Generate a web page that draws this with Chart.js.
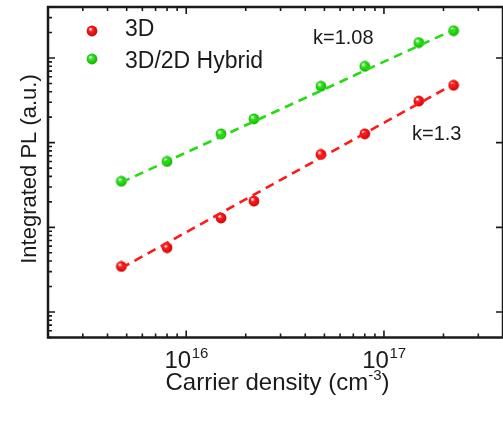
<!DOCTYPE html>
<html>
<head>
<meta charset="utf-8">
<script src="https://cdn.jsdelivr.net/npm/chart.js@4.4.1/dist/chart.umd.min.js"></script>
<style>
  html, body { margin: 0; padding: 0; background: #fff; overflow: hidden; }
  #wrap { width: 503px; height: 423px; overflow: hidden; }
  canvas { display: block; }
</style>
</head>
<body>
<div id="wrap"><canvas id="pl" width="510" height="423"></canvas></div>
<script>
// Carrier density (cm^-3) shared by both samples
const densities = [4.7e15, 8e15, 1.5e16, 2.2e16, 4.8e16, 8e16, 1.5e17, 2.25e17];
// Integrated PL (a.u.)
const pl3D = [345, 575, 1290, 2040, 7250, 12700, 31000, 47600];
const plHybrid = [3500, 6000, 12700, 19100, 46400, 79600, 152000, 210000];
// Power-law fit end points (first and last density)
const fit3D = [330, 49000];
const fitHybrid = [3400, 215000];
const slopeLabels = ["k=1.08", "k=1.3"];
const seriesNames = ["3D", "3D/2D Hybrid"];
const xTickExps = [16, 17];

const FONT = '"Liberation Sans", Arial, sans-serif';
const INK = "#1a1a1a";
const RED = "#ff1a1a";
const GREEN = "#22dd11";

// Shaded sphere marker
function ball(color, shade) {
  const c = document.createElement("canvas");
  c.width = c.height = 12;
  const g = c.getContext("2d");
  const grad = g.createRadialGradient(4.3, 4.0, 0.4, 6, 6, 6);
  grad.addColorStop(0, "#ffffff");
  grad.addColorStop(0.3, color);
  grad.addColorStop(1, shade);
  g.fillStyle = grad;
  g.beginPath();
  g.arc(6, 6, 5.4, 0, Math.PI * 2);
  g.fill();
  return c;
}
const redBall = ball("#ff2020", "#c80000");
const greenBall = ball("#30e820", "#14a800");

function logTicks(min, max) {
  const out = [];
  for (let e = Math.floor(Math.log10(min)); e <= Math.ceil(Math.log10(max)); e++) {
    for (let m = 1; m <= 9; m++) {
      const v = m * Math.pow(10, e);
      if (v >= min * 0.999 && v <= max * 1.001) out.push({ v, major: m === 1 });
    }
  }
  return out;
}

const pts = (ys) => densities.map((x, i) => ({ x, y: ys[i] }));
const fitPts = (ends) => [
  { x: densities[0], y: ends[0] },
  { x: densities[densities.length - 1], y: ends[1] },
];

// Boxed frame with inward ticks, labels, legend and annotations
const framePlugin = {
  id: "frame",
  afterDraw(chart) {
    const { ctx, chartArea: a, scales } = chart;
    const xs = scales.x, ys = scales.y;
    ctx.save();
    ctx.strokeStyle = INK;
    ctx.lineWidth = 2.5;
    ctx.strokeRect(a.left, a.top, a.right - a.left, a.bottom - a.top);

    ctx.lineWidth = 1.6;
    ctx.beginPath();
    logTicks(xs.min, xs.max).forEach((t) => {
      const px = xs.getPixelForValue(t.v);
      const len = t.major ? 7 : 4;
      ctx.moveTo(px, a.bottom); ctx.lineTo(px, a.bottom - len);
      ctx.moveTo(px, a.top); ctx.lineTo(px, a.top + len);
    });
    logTicks(ys.min, ys.max).forEach((t) => {
      const py = ys.getPixelForValue(t.v);
      const len = t.major ? 7 : 4;
      ctx.moveTo(a.left, py); ctx.lineTo(a.left + len, py);
      if (t.major) { ctx.moveTo(a.right, py); ctx.lineTo(a.right - len, py); }
    });
    ctx.stroke();

    ctx.fillStyle = INK;
    ctx.textBaseline = "alphabetic";

    // x tick labels 10^n
    xTickExps.forEach((e) => {
      const px = xs.getPixelForValue(Math.pow(10, e));
      ctx.font = "24px " + FONT;
      const wb = ctx.measureText("10").width;
      ctx.font = "15px " + FONT;
      const we = ctx.measureText(String(e)).width;
      const x0 = px - (wb + we) / 2;
      ctx.font = "24px " + FONT;
      ctx.textAlign = "left";
      ctx.fillText("10", x0, 368);
      ctx.font = "15px " + FONT;
      ctx.fillText(String(e), x0 + wb + 0.5, 358);
    });

    // x title with superscript
    const t1 = "Carrier density (cm", t2 = "-3", t3 = ")";
    ctx.font = "24px " + FONT;
    const w1 = ctx.measureText(t1).width, w3 = ctx.measureText(t3).width;
    ctx.font = "15px " + FONT;
    const w2 = ctx.measureText(t2).width;
    let x = (a.left + a.right) / 2 + 2 - (w1 + w2 + w3) / 2;
    ctx.textAlign = "left";
    ctx.font = "24px " + FONT;
    ctx.fillText(t1, x, 390); x += w1;
    ctx.font = "15px " + FONT;
    ctx.fillText(t2, x, 380); x += w2;
    ctx.font = "24px " + FONT;
    ctx.fillText(t3, x, 390);

    // y title
    ctx.save();
    ctx.translate(36, 169);
    ctx.rotate(-Math.PI / 2);
    ctx.textAlign = "center";
    ctx.font = "22px " + FONT;
    ctx.fillText("Integrated PL (a.u.)", 0, 0);
    ctx.restore();

    // legend
    ctx.textAlign = "left";
    ctx.font = "23px " + FONT;
    ctx.drawImage(redBall, 86, 25);
    ctx.fillText(seriesNames[0], 125, 36);
    ctx.drawImage(greenBall, 86, 53);
    ctx.fillText(seriesNames[1], 125, 67.5);

    // slope annotations
    ctx.font = "20px " + FONT;
    ctx.fillText(slopeLabels[0], 313, 43.5);
    ctx.fillText(slopeLabels[1], 412, 139.5);
    ctx.restore();
  },
};

new Chart(document.getElementById("pl"), {
  type: "scatter",
  data: {
    datasets: [
      {
        label: "3D fit",
        data: fitPts(fit3D),
        showLine: true,
        borderColor: RED,
        borderWidth: 2.6,
        borderDash: [9, 6],
        pointRadius: 0,
      },
      {
        label: "3D/2D Hybrid fit",
        data: fitPts(fitHybrid),
        showLine: true,
        borderColor: GREEN,
        borderWidth: 2.6,
        borderDash: [9, 6],
        pointRadius: 0,
      },
      {
        label: seriesNames[0],
        data: pts(pl3D),
        pointStyle: redBall,
        pointRadius: 6,
      },
      {
        label: seriesNames[1],
        data: pts(plHybrid),
        pointStyle: greenBall,
        pointRadius: 6,
      },
    ],
  },
  options: {
    responsive: false,
    animation: false,
    layout: { padding: { left: 48, top: 4.5, right: 4, bottom: 85.5 } },
    plugins: { legend: { display: false }, tooltip: { enabled: false } },
    scales: {
      x: { type: "logarithmic", min: 2e15, max: 4e17, display: false },
      y: { type: "logarithmic", min: 50, max: 4e5, display: false },
    },
  },
  plugins: [framePlugin],
});
</script>
</body>
</html>
